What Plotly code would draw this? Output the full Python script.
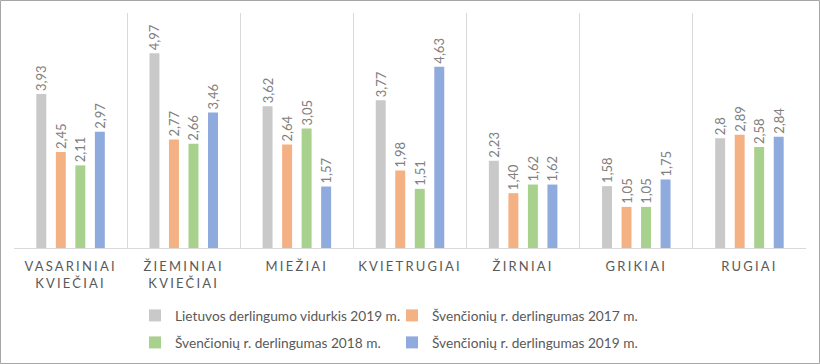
import plotly.graph_objects as go

categories = ["VASARINIAI<br>KVIEČIAI", "ŽIEMINIAI<br>KVIEČIAI", "MIEŽIAI", "KVIETRUGIAI",
              "ŽIRNIAI", "GRIKIAI", "RUGIAI"]
series_names = ["Lietuvos derlingumo vidurkis 2019 m.",
                "Švenčionių r. derlingumas 2017 m.",
                "Švenčionių r. derlingumas 2018 m.",
                "Švenčionių r. derlingumas 2019 m."]
lt_2019 = ["3,93", "4,97", "3,62", "3,77", "2,23", "1,58", "2,8"]
sv_2017 = ["2,45", "2,77", "2,64", "1,98", "1,40", "1,05", "2,89"]
sv_2018 = ["2,11", "2,66", "3,05", "1,51", "1,62", "1,05", "2,58"]
sv_2019 = ["2,97", "3,46", "1,57", "4,63", "1,62", "1,75", "2,84"]
colors = ["#C9C9C9", "#F4B183", "#A9D18E", "#8FAADC"]

FONT = "Lato, Calibri, Carlito, sans-serif"
xpos = list(range(len(categories)))
legend_ids = ["legend", "legend2", "legend3", "legend4"]

fig = go.Figure()
for i, (name, vals, col) in enumerate(zip(series_names, [lt_2019, sv_2017, sv_2018, sv_2019], colors)):
    fig.add_trace(go.Bar(
        x=xpos, y=[float(v.replace(",", ".")) for v in vals], name=name,
        text=vals, textposition="outside", textangle=-90, constraintext="none",
        textfont=dict(family=FONT, size=13, color="#808080"),
        marker=dict(color=col, line=dict(width=0)),
        cliponaxis=False,
        legend=legend_ids[i],
    ))

W, H = 820, 364
ml, mr, mt, mb = 14, 14, 13, 116
pw, ph = W - ml - mr, H - mt - mb

leg_common = dict(orientation="h", xref="container", yref="container",
                  xanchor="left", yanchor="top",
                  font=dict(family=FONT, size=13.7, color="#595959"), itemwidth=30,
                  bgcolor="rgba(0,0,0,0)")
col_x = [135 / W, 392 / W]
row_y = [1 - 300 / H, 1 - 327 / H]

fig.update_layout(
    template="none",
    width=W, height=H,
    margin=dict(l=ml, r=mr, t=mt, b=mb, autoexpand=False),
    paper_bgcolor="white", plot_bgcolor="white",
    barmode="group", bargap=0.31, bargroupgap=0.49,
    font=dict(family=FONT, color="#595959"),
    xaxis=dict(
        range=[-0.5, len(categories) - 0.5], tickvals=xpos, ticktext=categories,
        showgrid=False, zeroline=False, showline=False, ticks="", automargin=False,
        ticklabelstandoff=9,
        tickfont=dict(family=FONT, size=13, color="#595959"),
        minor=dict(tickvals=[i - 0.5 for i in range(len(categories) + 1)],
                   showgrid=True, gridcolor="#D9D9D9", gridwidth=1, ticks=""),
    ),
    yaxis=dict(range=[0, 6], showgrid=False, zeroline=True, zerolinecolor="#D9D9D9",
               zerolinewidth=1, showticklabels=False, showline=False, automargin=False),
    legend=dict(leg_common, x=col_x[0], y=row_y[0]),
    legend2=dict(leg_common, x=col_x[1], y=row_y[0]),
    legend3=dict(leg_common, x=col_x[0], y=row_y[1]),
    legend4=dict(leg_common, x=col_x[1], y=row_y[1]),
    showlegend=True,
)

# outer chart border
fig.add_shape(type="rect", xref="paper", yref="paper",
              x0=(0.5 - ml) / pw, x1=1 + (mr - 0.5) / pw,
              y0=-(mb - 0.5) / ph, y1=1 + (mt - 0.5) / ph,
              line=dict(color="#A6A6A6", width=1), fillcolor="rgba(0,0,0,0)", layer="below")

fig.write_html("out.html", config={"displayModeBar": False}, post_script=(
    "document.body.style.margin='0';document.body.style.padding='0';"
    "document.querySelectorAll('.xtick text').forEach(function(t){t.style.letterSpacing='2.2px';});"
))
